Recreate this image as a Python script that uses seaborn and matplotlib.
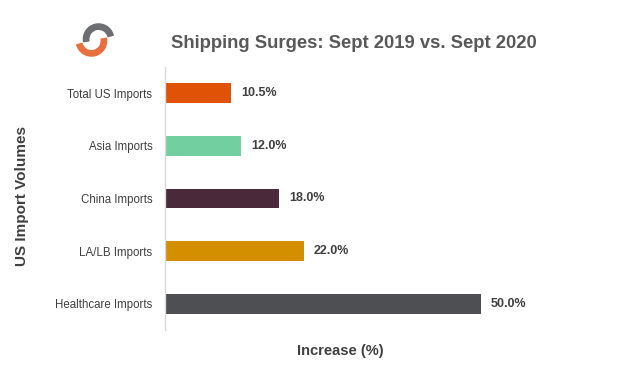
import pandas as pd
import seaborn as sns
import matplotlib.pyplot as plt
from matplotlib.patches import Wedge

# Data
categories = ['Total US Imports', 'Asia Imports', 'China Imports',
              'LA/LB Imports', 'Healthcare Imports']
increase = [10.5, 12.0, 18.0, 22.0, 50.0]
colors = ['#E05206', '#72CF9F', '#4A2A3A', '#D48F00', '#4D4F53']

data = pd.DataFrame({'Category': categories, 'Increase': increase})

sns.set_style('white')
plt.rcParams['font.family'] = ['Liberation Sans', 'DejaVu Sans']

fig = plt.figure(figsize=(6.37, 3.75), dpi=100)
ax = fig.add_axes([165 / 637, 1 - 330 / 375, 350 / 637, 263 / 375])

sns.barplot(data=data, x='Increase', y='Category', hue='Category',
            palette=colors, legend=False, width=0.38, saturation=1,
            linewidth=0, ax=ax, orient='h')

for i, v in enumerate(increase):
    ax.text(v + 1.6, i, f'{v:.1f}%', va='center', ha='left',
            fontsize=9, fontweight='bold', color='#404040')

ax.set_xlim(0, 55.4)
ax.set_ylim(4.5, -0.5)
ax.set_xticks([])
ax.tick_params(axis='y', length=0, labelsize=8.3, labelcolor='#404040', pad=9)
for s in ['top', 'right', 'bottom']:
    ax.spines[s].set_visible(False)
ax.spines['left'].set_color('#D9D9D9')
ax.spines['left'].set_linewidth(1)

ax.set_xlabel('Increase (%)', fontsize=10.5, fontweight='bold',
              color='#404040', labelpad=10)
ax.set_ylabel('')
fig.text(22 / 637, 1 - 196 / 375, 'US Import Volumes', rotation=90,
         ha='center', va='center', fontsize=11, fontweight='bold',
         color='#404040')

fig.text(354 / 637, 1 - 44 / 375, 'Shipping Surges: Sept 2019 vs. Sept 2020',
         ha='center', va='center', fontsize=13.3, fontweight='bold',
         color='#595959')

# Logo
lax = fig.add_axes([70 / 637, 1 - 58 / 375, 50 / 637, 36 / 375])
lax.set_xlim(-1.4, 1.4)
lax.set_ylim(-1.0, 1.0)
lax.set_aspect('equal')
lax.axis('off')
lax.add_patch(Wedge((0.2, 0.05), 0.85, 15, 190, width=0.3, color='#6D6E71'))
lax.add_patch(Wedge((-0.2, -0.05), 0.85, 195, 10, width=0.3, color='#E8703F'))

fig.savefig('out.png', dpi=100)
